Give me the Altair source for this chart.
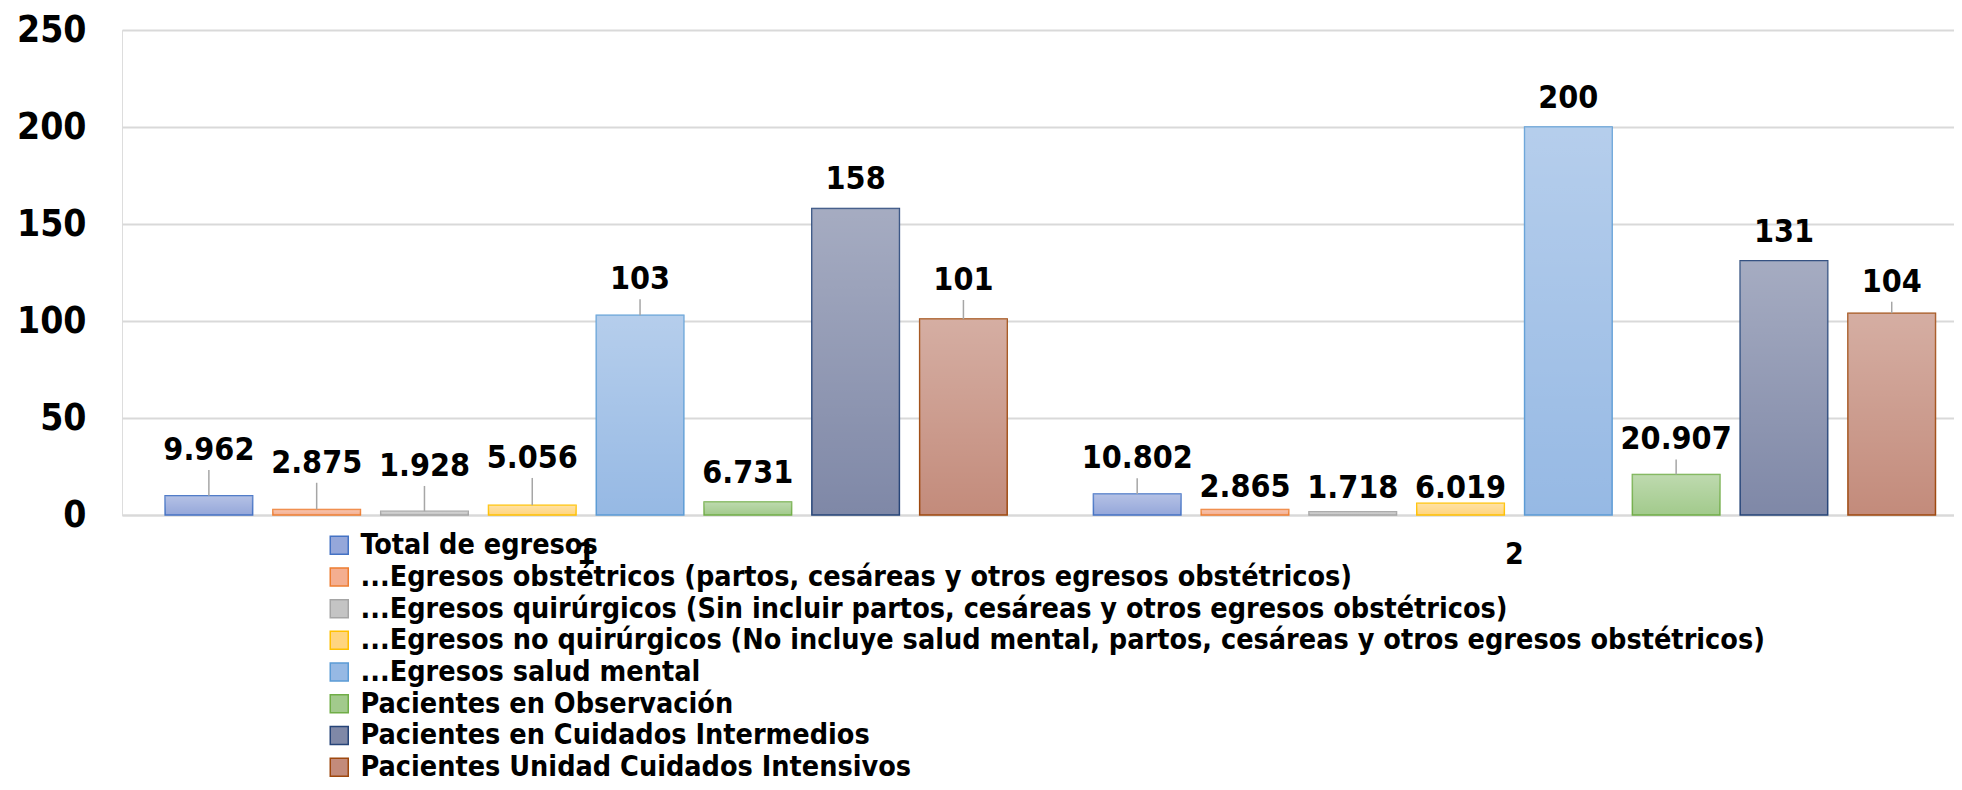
import altair as alt
import pandas as pd

# ---- data ----
groups = ["1", "2"]
series = [
    "Total de egresos",
    "...Egresos obstétricos (partos, cesáreas y otros egresos obstétricos)",
    "...Egresos quirúrgicos (Sin incluir partos, cesáreas y otros egresos obstétricos)",
    "...Egresos no quirúrgicos (No incluye salud mental, partos, cesáreas y otros egresos obstétricos)",
    "...Egresos salud mental",
    "Pacientes en Observación",
    "Pacientes en Cuidados Intermedios",
    "Pacientes Unidad Cuidados Intensivos",
]
values_g1 = [9.962, 2.875, 1.928, 5.056, 103, 6.731, 158, 101]
values_g2 = [10.802, 2.865, 1.718, 6.019, 200, 20.907, 131, 104]
# extra raise of each data label above its bar (data units), as placed in the reference
label_lift_g1 = [8.6, 9.1, 8.4, 9.4, 3.6, 0, 0, 5.2]
label_lift_g2 = [3.5, -3.6, -2.6, -6.8, 0, 3.1, 0, 1.3]

# ---- styles ----
fill_colors = ["#95a7da", "#f4ae90", "#c4c4c4", "#ffd57f", "#96b9e4",
               "#a2ca8c", "#7f88a7", "#c38b7b"]
stroke_colors = ["#4472c4", "#ed7d31", "#a5a5a5", "#ffc000", "#5b9bd5",
                 "#70ad47", "#264478", "#9e480e"]
FONT = "DejaVu Sans Condensed"
H = 485
W = 1832
Y_MAX = 250
PPU = H / Y_MAX

rows = []
for g, vals, lifts in [(groups[0], values_g1, label_lift_g1), (groups[1], values_g2, label_lift_g2)]:
    for s, v, lf in zip(series, vals, lifts):
        rows.append({"grupo": g, "serie": s, "valor": v, "lift": lf,
                     "etiqueta": f"{v:g}"})
df = pd.DataFrame(rows)

x_enc = alt.X("grupo:N", sort=groups,
              scale=alt.Scale(domain=groups, range=[0, 1856.6], paddingInner=0, paddingOuter=0),
              axis=alt.Axis(title=None, labelAngle=0, ticks=False, domain=True,
                            domainColor="#d9d9d9", domainWidth=2,
                            labelFont=FONT, labelFontSize=30, labelFontWeight="bold",
                            labelColor="#000000", labelPadding=24))
xo_enc = alt.XOffset("serie:N", sort=series,
                     scale=alt.Scale(domain=series, paddingInner=0.188, paddingOuter=0.4))
y_scale = alt.Scale(domain=[0, Y_MAX])

base = alt.Chart(df)

bars = base.mark_bar(strokeWidth=1.5).encode(
    x=x_enc,
    xOffset=xo_enc,
    y=alt.Y("valor:Q", scale=y_scale,
            axis=alt.Axis(title=None, values=[0, 50, 100, 150, 200, 250], ticks=False,
                          domain=False, grid=True, gridColor="#d9d9d9", gridWidth=2,
                          labelFont=FONT, labelFontSize=37, labelFontWeight="bold",
                          labelColor="#000000", labelPadding=36)),
    fill=alt.Fill("serie:N", sort=series,
                  scale=alt.Scale(domain=series, range=fill_colors),
                  legend=alt.Legend(title=None, orient="none", legendX=203, legendY=501,
                                    direction="vertical", symbolType="square",
                                    symbolSize=324, symbolStrokeWidth=1.5,
                                    labelFont=FONT, labelFontSize=28.5,
                                    labelFontWeight="bold", labelColor="#000000",
                                    labelLimit=0, labelOffset=7, rowPadding=2.7,
                                    padding=0)),
    stroke=alt.Stroke("serie:N", sort=series,
                      scale=alt.Scale(domain=series, range=stroke_colors)),
)

shine = base.mark_bar(
    fill=alt.LinearGradient(
        gradient="linear", x1=0, x2=0, y1=0, y2=1,
        stops=[alt.GradientStop(color="rgba(255,255,255,0.30)", offset=0),
               alt.GradientStop(color="rgba(255,255,255,0.0)", offset=1)]),
    strokeWidth=0,
).encode(x=x_enc, xOffset=xo_enc, y=alt.Y("valor:Q", scale=y_scale))

leaders = base.transform_filter("datum.lift > 0.5").transform_calculate(
    top=f"datum.valor + datum.lift + 9 / {PPU}"
).mark_rule(color="#a6a6a6", strokeWidth=1.5).encode(
    x=x_enc, xOffset=xo_enc,
    y=alt.Y("valor:Q", scale=y_scale),
    y2="top:Q",
)

labels = base.transform_calculate(
    ly="datum.valor + datum.lift"
).mark_text(baseline="alphabetic", dy=-19, font=FONT, fontSize=32,
            fontWeight="bold", color="#000000").encode(
    x=x_enc, xOffset=xo_enc,
    y=alt.Y("ly:Q", scale=y_scale),
    text="etiqueta:N",
)

chart = alt.layer(bars, shine, leaders, labels).properties(
    width=W, height=H,
    autosize=alt.AutoSizeParams(type="none"),
    padding={"left": 114, "top": 22, "right": 0, "bottom": 267},
).configure_view(stroke=None).configure(background="#ffffff")

chart.save("out.html", embed_options={"renderer": "svg", "actions": False})
